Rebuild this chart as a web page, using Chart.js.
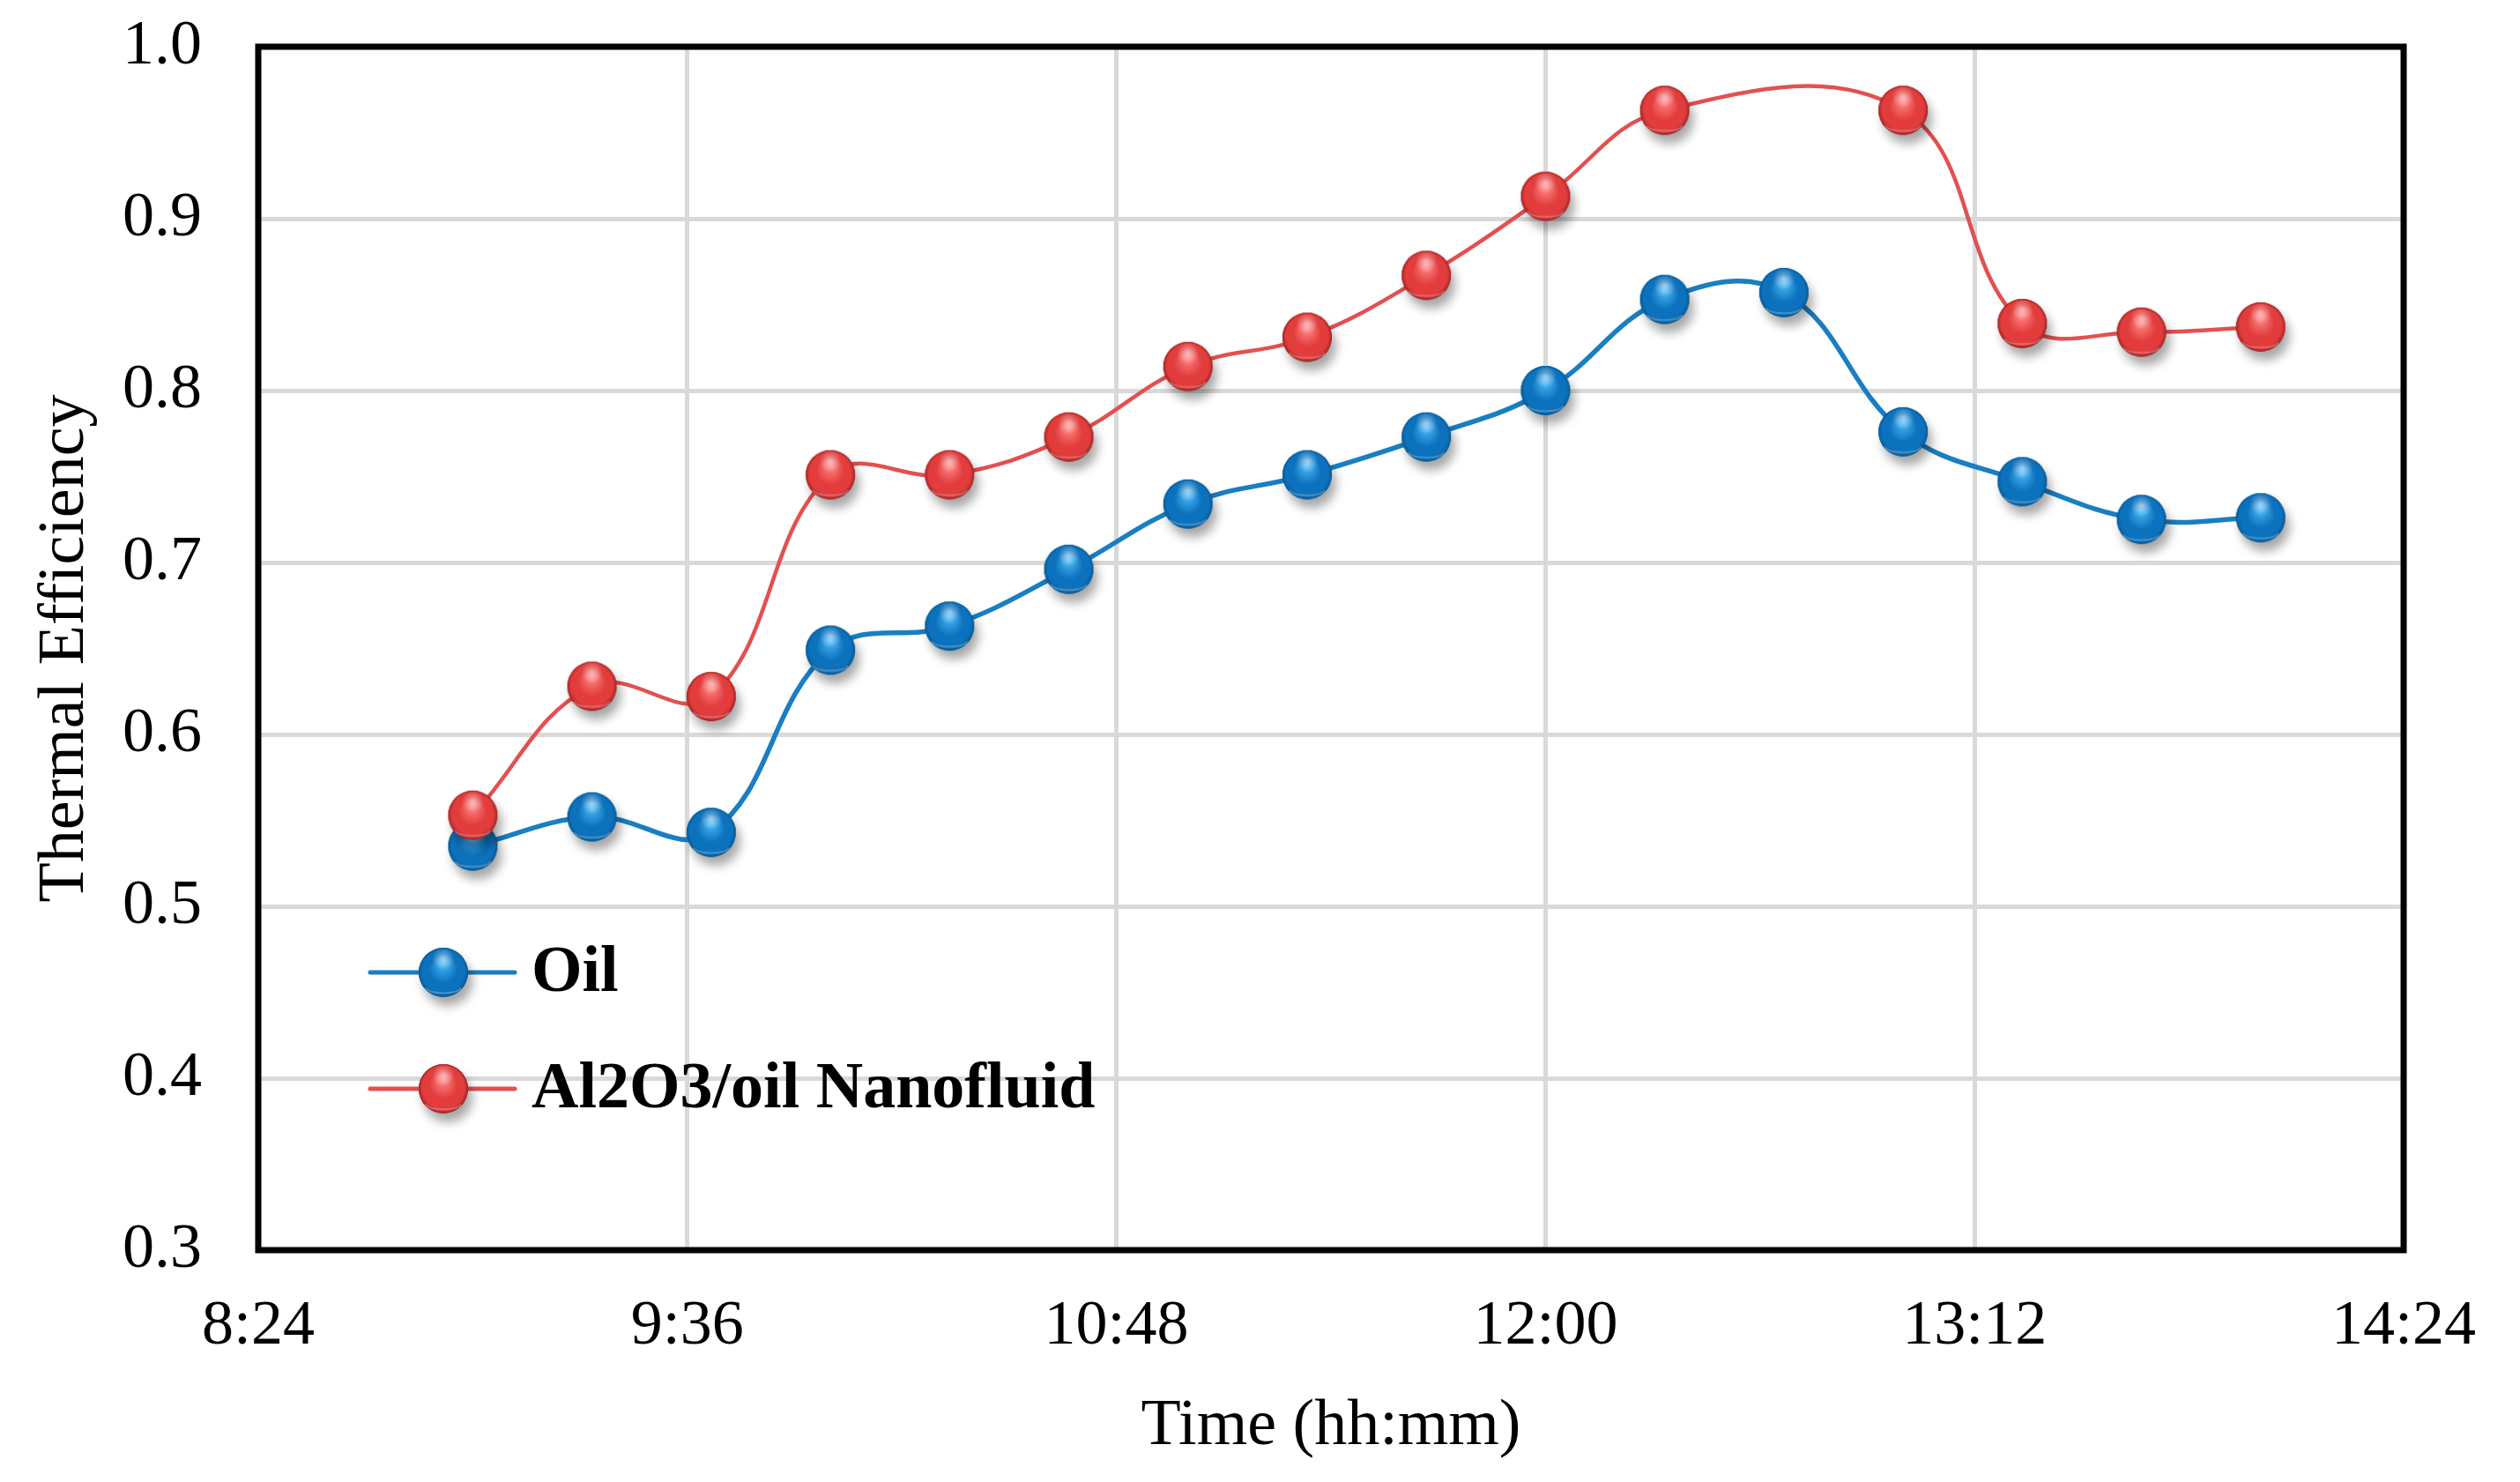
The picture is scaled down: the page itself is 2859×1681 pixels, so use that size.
<!DOCTYPE html>
<html>
<head>
<meta charset="utf-8">
<script src="https://cdn.jsdelivr.net/npm/chart.js@4.4.1/dist/chart.umd.min.js"></script>
<style>
  html, body { margin: 0; padding: 0; background: #fff; }
  canvas { display: block; }
</style>
</head>
<body>
<canvas id="myChart" width="2859" height="1681" style="width:2859px;height:1681px"></canvas>
<script>
// Measured values (time of day, thermal efficiency)
const times = ['9:00', '9:20', '9:40', '10:00', '10:20', '10:40', '11:00', '11:20',
               '11:40', '12:00', '12:20', '12:40', '13:00', '13:20', '13:40', '14:00'];
const oil = [0.535, 0.552, 0.543, 0.649, 0.663, 0.696, 0.734, 0.751,
             0.773, 0.800, 0.853, 0.857, 0.776, 0.747, 0.725, 0.726];
const nano = [0.553, 0.628, 0.622, 0.751, 0.751, 0.773, 0.814, 0.831,
              0.867, 0.913, 0.963, null, 0.963, 0.839, 0.834, 0.837];
const seriesNames = ['Oil', 'Al2O3/oil Nanofluid'];

const FONT = "'Liberation Serif', 'Times New Roman', serif";
const BLUE_LINE = '#1a7ec2';
const RED_LINE = '#e35050';

// h:mm <-> minutes
const toMin = (t) => { const [h, m] = t.split(':').map(Number); return h * 60 + m; };
const fmt = (v) => Math.floor(v / 60) + ':' + String(v % 60).padStart(2, '0');

// Glossy ball used as point style
function makeBall(base, light, dark) {
    const s = 100, r = 28, cx = s / 2, cy = s / 2;
    const c = document.createElement('canvas');
    c.width = c.height = s;
    const g = c.getContext('2d');

    g.save();
    g.shadowColor = 'rgba(0,0,0,0.35)';
    g.shadowBlur = 12;
    g.shadowOffsetX = 5;
    g.shadowOffsetY = 10;
    g.beginPath();
    g.arc(cx, cy, r, 0, Math.PI * 2);
    g.fillStyle = dark;
    g.fill();
    g.restore();

    const grad = g.createRadialGradient(cx, cy - r * 0.35, r * 0.05, cx, cy, r);
    grad.addColorStop(0, light);
    grad.addColorStop(0.55, base);
    grad.addColorStop(0.85, base);
    grad.addColorStop(1, dark);
    g.beginPath();
    g.arc(cx, cy, r, 0, Math.PI * 2);
    g.fillStyle = grad;
    g.fill();

    // thin light band near the bottom
    g.beginPath();
    g.ellipse(cx, cy + r * 0.62, r * 0.7, r * 0.22, 0, 0, Math.PI);
    g.strokeStyle = 'rgba(255,255,255,0.25)';
    g.lineWidth = 2;
    g.stroke();

    // top highlight
    const hl = g.createRadialGradient(cx, cy - r * 0.55, 0, cx, cy - r * 0.55, r * 0.45);
    hl.addColorStop(0, 'rgba(255,255,255,0.55)');
    hl.addColorStop(1, 'rgba(255,255,255,0)');
    g.beginPath();
    g.arc(cx, cy, r, 0, Math.PI * 2);
    g.fillStyle = hl;
    g.fill();
    return c;
}

const blueBall = makeBall('#0c72bd', '#45b4f3', '#075a96');
const redBall = makeBall('#e23c3c', '#ff8080', '#a42424');

// Box around the plot area
const frame = {
    id: 'frame',
    afterDraw(chart) {
        const { ctx, chartArea: a } = chart;
        ctx.save();
        ctx.strokeStyle = '#000';
        ctx.lineWidth = 7;
        ctx.strokeRect(a.left, a.top, a.right - a.left, a.bottom - a.top);
        ctx.restore();
    }
};

// Legend inside the plot, lower left
const innerLegend = {
    id: 'innerLegend',
    afterDraw(chart) {
        const { ctx } = chart;
        const rows = [
            { text: seriesNames[0], color: BLUE_LINE, ball: blueBall, y: 1103 },
            { text: seriesNames[1], color: RED_LINE, ball: redBall, y: 1235 }
        ];
        ctx.save();
        rows.forEach((r) => {
            ctx.strokeStyle = r.color;
            ctx.lineWidth = 5;
            ctx.lineCap = 'round';
            ctx.beginPath();
            ctx.moveTo(420, r.y);
            ctx.lineTo(584, r.y);
            ctx.stroke();
            ctx.drawImage(r.ball, 503 - r.ball.width / 2, r.y - r.ball.height / 2);
            ctx.fillStyle = '#000';
            ctx.font = 'bold 74px ' + FONT;
            ctx.textBaseline = 'middle';
            ctx.textAlign = 'left';
            ctx.fillText(r.text, 603, r.y + 2);
        });
        ctx.restore();
    }
};

const ctx = document.getElementById('myChart').getContext('2d');
const chart = new Chart(ctx, {
    type: 'line',
    data: {
        datasets: [{
            label: seriesNames[0],
            data: times.map((t, i) => ({ x: toMin(t), y: oil[i] })),
            borderColor: BLUE_LINE,
            borderWidth: 5.5,
            tension: 0.4,
            pointStyle: blueBall,
            order: 1
        }, {
            label: seriesNames[1],
            data: times.map((t, i) => ({ x: toMin(t), y: nano[i] })),
            borderColor: RED_LINE,
            borderWidth: 4.5,
            tension: 0.4,
            spanGaps: true,
            pointStyle: redBall,
            order: 0
        }]
    },
    options: {
        responsive: false,
        devicePixelRatio: 1,
        animation: false,
        layout: { padding: { top: 53, right: 132, left: 0, bottom: 0 } },
        plugins: {
            legend: { display: false },
            tooltip: { enabled: false }
        },
        scales: {
            x: {
                type: 'linear',
                min: 504,
                max: 864,
                afterFit: (s) => { s.height = 263; s.paddingLeft = 0; s.paddingRight = 0; },
                ticks: {
                    stepSize: 72,
                    padding: 44,
                    color: '#000',
                    font: { family: FONT, size: 72 },
                    callback: (v) => fmt(v)
                },
                grid: { color: '#d9d9d9', lineWidth: 5, drawTicks: false },
                border: { display: false },
                title: {
                    display: true,
                    text: 'Time (hh:mm)',
                    color: '#000',
                    font: { family: FONT, size: 74 },
                    padding: { top: 0, bottom: 18 }
                }
            },
            y: {
                min: 0.3,
                max: 1.0,
                afterFit: (s) => { s.width = 293; s.paddingTop = 0; s.paddingBottom = 0; },
                ticks: {
                    stepSize: 0.1,
                    padding: 64,
                    color: '#000',
                    font: { family: FONT, size: 72 },
                    callback: (v) => v.toFixed(1)
                },
                grid: { color: '#d9d9d9', lineWidth: 5, drawTicks: false },
                border: { display: false },
                title: {
                    display: true,
                    text: 'Thermal Efficiency',
                    color: '#000',
                    font: { family: FONT, size: 74 },
                    padding: { top: 30, bottom: 0 }
                }
            }
        }
    },
    plugins: [frame, innerLegend]
});
</script>
</body>
</html>
